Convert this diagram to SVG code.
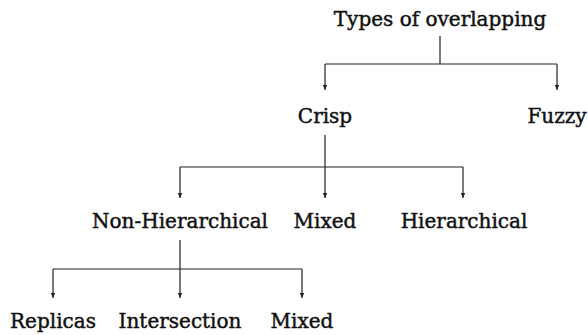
<svg xmlns="http://www.w3.org/2000/svg" width="588" height="335" viewBox="0 0 588 335">
<style>
.t{font-family:"DejaVu Serif","Liberation Serif",serif;font-size:20px;fill:#111;stroke:#111;stroke-width:0.45;text-anchor:middle}
.c{fill:none;stroke:#222;stroke-width:1.2}
</style>
<defs>
<marker id="ah" markerWidth="6" markerHeight="6" refX="5" refY="3" orient="auto" markerUnits="userSpaceOnUse">
<path d="M0,0.8 L5,3 L0,5.2 Z" fill="#222"/>
</marker>
</defs>
<rect width="588" height="335" fill="#fff"/>
<g id="connectors">
<path class="c" d="M440,36 V64 M325,64 H557"/>
<path class="c" d="M325,64 V90" marker-end="url(#ah)"/>
<path class="c" d="M557,64 V90" marker-end="url(#ah)"/>
<path class="c" d="M180,167 H463"/>
<path class="c" d="M325,135 V198" marker-end="url(#ah)"/>
<path class="c" d="M180,167 V198" marker-end="url(#ah)"/>
<path class="c" d="M463,167 V198" marker-end="url(#ah)"/>
<path class="c" d="M53,269 H302"/>
<path class="c" d="M180,240 V298" marker-end="url(#ah)"/>
<path class="c" d="M53,269 V298" marker-end="url(#ah)"/>
<path class="c" d="M302,269 V298" marker-end="url(#ah)"/>
</g>
<g id="n-types"><text class="t" x="440" y="26">Types of overlapping</text></g>
<g id="n-crisp"><text class="t" x="325" y="123">Crisp</text></g>
<g id="n-fuzzy"><text class="t" x="557" y="123">Fuzzy</text></g>
<g id="n-nonhier"><text class="t" x="180" y="228">Non-Hierarchical</text></g>
<g id="n-mixed1"><text class="t" x="325" y="228">Mixed</text></g>
<g id="n-hier"><text class="t" x="464" y="228">Hierarchical</text></g>
<g id="n-replicas"><text class="t" x="53" y="328">Replicas</text></g>
<g id="n-intersection"><text class="t" x="180" y="328">Intersection</text></g>
<g id="n-mixed2"><text class="t" x="302" y="328">Mixed</text></g>
</svg>
